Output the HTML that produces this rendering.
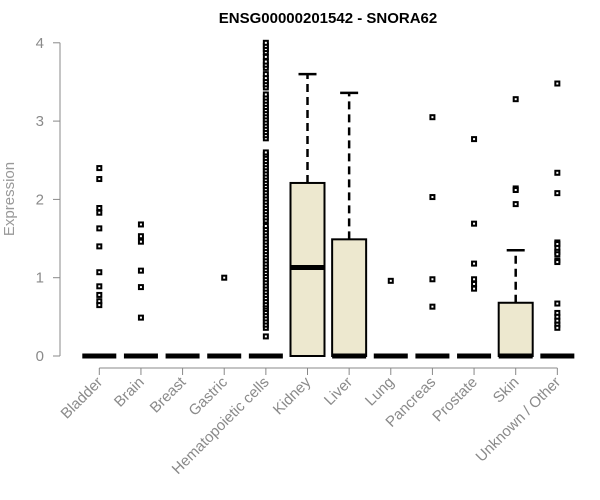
<!DOCTYPE html>
<html><head><meta charset="utf-8"><style>
body{margin:0;background:#fff;}
svg{display:block;font-family:"Liberation Sans",Arial,sans-serif;}
</style></head><body>
<svg id="chart" width="600" height="500">
<text x="328" y="23" text-anchor="middle" font-size="15" font-weight="bold">ENSG00000201542 - SNORA62</text>
<text transform="translate(14,199) rotate(-90)" text-anchor="middle" font-size="15" fill="#999">Expression</text>
<g id="axes"></g>
<g id="marks"></g>
</svg>
<script>
const categories=["Bladder","Brain","Breast","Gastric","Hematopoietic cells","Kidney","Liver","Lung","Pancreas","Prostate","Skin","Unknown / Other"];
const q1=[0,0,0,0,0,0,0,0,0,0,0,0];
const medians=[0,0,0,0,0,1.13,0,0,0,0,0,0];
const q3=[0,0,0,0,0,2.21,1.49,0,0,0,0.68,0];
const whiskerHi=[0,0,0,0,0,3.60,3.36,0,0,0,1.35,0];
const yTicks=[0,1,2,3,4];
const outliers=[
[2.40,2.26,1.89,1.83,1.63,1.40,1.07,0.89,0.78,0.70,0.65],
[1.68,1.53,1.46,1.09,0.88,0.49],
[],
[1.0],
[0.25,0.36,0.40,0.44,0.48,0.52,0.56,0.60,0.63,0.66,0.70,0.74,0.78,0.82,0.86,0.90,0.94,0.98,1.02,1.06,1.10,1.14,1.18,1.22,1.26,1.30,1.34,1.38,1.42,1.46,1.50,1.54,1.58,1.62,1.66,1.73,1.77,1.81,1.85,1.89,1.93,1.97,2.01,2.05,2.09,2.13,2.17,2.21,2.25,2.29,2.33,2.37,2.41,2.45,2.49,2.53,2.57,2.60,2.78,2.82,2.86,2.90,2.94,2.98,3.02,3.06,3.10,3.14,3.18,3.22,3.26,3.30,3.34,3.43,3.47,3.51,3.55,3.60,3.68,3.72,3.76,3.82,3.88,3.92,3.96,4.00],
[],[],
[0.96],
[3.05,2.03,0.98,0.63],
[2.77,1.69,1.18,0.98,0.92,0.86],
[3.28,2.14,2.12,1.94],
[3.48,2.34,2.08,1.45,1.43,1.38,1.33,1.30,1.22,1.20,0.67,0.55,0.50,0.45,0.40,0.36]
];
const NS="http://www.w3.org/2000/svg";
const axes=document.getElementById('axes'),marks=document.getElementById('marks');
const y=v=>356-v*78.3;
const x=i=>99.3+i*41.64;
const bw=34;
function mk(p,tag,a){const e=document.createElementNS(NS,tag);for(const k in a)e.setAttribute(k,a[k]);p.appendChild(e);return e;}
let ya=mk(axes,'line',{x1:60,y1:y(0),x2:60,y2:y(4),stroke:'#888'});


yTicks.forEach(t=>{
 const l=mk(axes,'line',{x1:53,y1:y(t),x2:60,y2:y(t),stroke:'#888'});
 
 
 const tx=mk(axes,'text',{x:44,y:y(t)+5,'text-anchor':'end','font-size':15,fill:'#8a8a8a'});
 tx.textContent=t;
 
 
});
let xa=mk(axes,'line',{x1:x(0),y1:368,x2:x(categories.length-1),y2:368,stroke:'#888'});


categories.forEach((c,i)=>{
 const l=mk(axes,'line',{x1:x(i),y1:368,x2:x(i),y2:375,stroke:'#888'});
 
 
 const tx=mk(axes,'text',{transform:`translate(${x(i)+4},${383}) rotate(-45)`,'text-anchor':'end','font-size':15,fill:'#8a8a8a'});
 tx.textContent=c;
 
 
 const g=mk(marks,'g',{});
 
 
 const cx=x(i);
 if(whiskerHi[i]>q3[i]){
  mk(g,'line',{x1:cx,y1:y(q3[i]),x2:cx,y2:y(whiskerHi[i]),stroke:'#000','stroke-width':2.5,'stroke-dasharray':'8,5'});
  mk(g,'line',{x1:cx-9,y1:y(whiskerHi[i]),x2:cx+9,y2:y(whiskerHi[i]),stroke:'#000','stroke-width':2.5});
 }
 if(q3[i]>q1[i]){
  mk(g,'rect',{x:cx-bw/2,y:y(q3[i]),width:bw,height:y(q1[i])-y(q3[i]),fill:'#ede8cf',stroke:'#000','stroke-width':2});
 }
 mk(g,'line',{x1:cx-bw/2,y1:y(medians[i]),x2:cx+bw/2,y2:y(medians[i]),stroke:'#000','stroke-width':5});
 outliers[i].forEach(v=>{
  const r=mk(g,'rect',{x:cx-2,y:y(v)-2,width:4,height:4,fill:'#fff',stroke:'#000','stroke-width':2});
  
  
 });
});
</script>
</body></html>
